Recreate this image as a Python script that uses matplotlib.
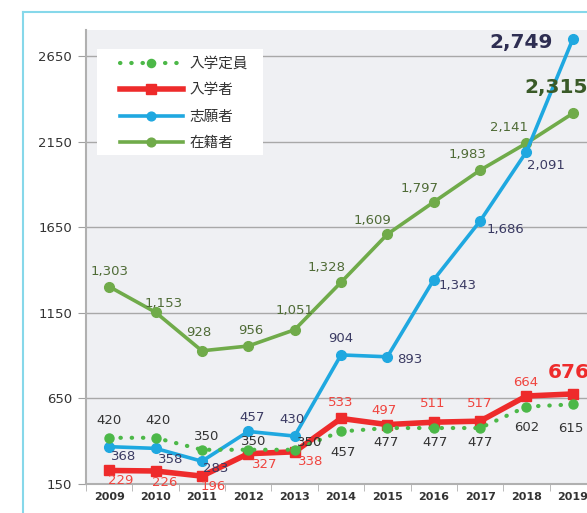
import numpy as np
import matplotlib.pyplot as plt
from matplotlib.lines import Line2D
from matplotlib.patches import Rectangle

plt.rcParams['font.family'] = ['DejaVu Sans', 'Noto Sans CJK JP']

years = ['2009', '2010', '2011', '2012', '2013', '2014', '2015', '2016', '2017', '2018', '2019']
teiin = [420, 420, 350, 350, 350, 457, 477, 477, 477, 602, 615]      # 入学定員
nyugaku = [229, 226, 196, 327, 338, 533, 497, 511, 517, 664, 676]    # 入学者
shigan = [368, 358, 283, 457, 430, 904, 893, 1343, 1686, 2091, 2749]  # 志願者
zaiseki = [1303, 1153, 928, 956, 1051, 1328, 1609, 1797, 1983, 2141, 2315]  # 在籍者
yticks = [150, 650, 1150, 1650, 2150, 2650]

# label offsets in pixels (dx, dy), dy positive = up
off_teiin = [(0, 17), (2, 17), (5, 13), (5, 8), (15, 7), (2, -21), (-1, -14), (1, -14), (0, -14), (0, -21), (-2, -24)]
off_nyu = [(12, -10), (9, -12), (11, -10), (16, -11), (16, -10), (0, 16), (-3, 14), (-1, 19), (0, 18), (-1, 14), (-4, 21)]
off_shi = [(14, -10), (15, -11), (14, -7), (4, 14), (-3, 17), (0, 16), (22, -3), (24, -6), (25, -8), (19, -14), (-52, -3)]
off_zai = [(0, 15), (8, 9), (-3, 18), (2, 16), (0, 19), (-14, 15), (-15, 14), (-14, 14), (-13, 16), (-17, 16), (-17, 26)]

c_teiin = '#4cb848'
c_nyu = '#ee2b2b'
c_shi = '#1fa8e0'
c_zai = '#70ab4a'

W, H = 587, 513
fig = plt.figure(figsize=(W / 100, H / 100), dpi=100)
fig.patch.set_facecolor('white')

# light blue frame (only left/top visible)
fig.add_artist(Line2D([23 / W, 23 / W], [0, 1 - 12 / H], color='#86d8ea', lw=1.5))
fig.add_artist(Line2D([23 / W, 1], [1 - 12 / H, 1 - 12 / H], color='#86d8ea', lw=1.5))

ax = fig.add_axes([86 / W, 29 / H, 510 / W, 454 / H])
ax.set_facecolor('#eff0f3')
x = np.arange(len(years))

ax.plot(x, zaiseki, color=c_zai, lw=2.6, marker='o', ms=7, zorder=3, label='在籍者')
ax.plot(x, shigan, color=c_shi, lw=2.6, marker='o', ms=7, zorder=4, label='志願者')
ax.plot(x, nyugaku, color=c_nyu, lw=4, marker='s', ms=7.5, zorder=5, label='入学者')
ax.plot(x, teiin, color=c_teiin, lw=3, ls=(0, (0.1, 2.6)), dash_capstyle='round',
        marker='o', ms=6.5, zorder=6, label='入学定員')

def put_labels(vals, offs, color, big=None):
    for i, (v, (dx, dy)) in enumerate(zip(vals, offs)):
        kw = dict(fontsize=9.5, color=color)
        if big is not None and i == len(vals) - 1:
            kw = dict(fontsize=14.5, color=big, fontweight='bold')
        ax.annotate(f'{v:,}', (x[i], v), xytext=(dx, dy), textcoords='offset pixels',
                    ha='center', va='center', zorder=10, annotation_clip=False, **kw)

put_labels(zaiseki, off_zai, '#4f6b36', big='#3a5a28')
put_labels(shigan, off_shi, '#3b3b63', big='#2e2e52')
put_labels(nyugaku, off_nyu, '#f0453f', big='#ee2b2b')
put_labels(teiin, off_teiin, '#333333')

ax.set_xlim(-0.5, len(years) - 0.5)
ax.set_ylim(150, 2802)
ax.set_yticks(yticks)
ax.set_yticklabels([str(t) for t in yticks], fontsize=9.5, color='#333333')
ax.set_xticks(x)
ax.set_xticklabels(years, fontsize=8, color='#333333', fontweight='bold')
ax.set_xticks(np.arange(len(years) + 1) - 0.5, minor=True)
ax.tick_params(axis='x', which='major', length=0, pad=6)
ax.tick_params(axis='x', which='minor', length=5, color='#b0b0b0')
ax.tick_params(axis='y', length=6, color='#a0a0a0', pad=4)
ax.grid(axis='y', color='#a8a8a8', lw=1)
ax.set_axisbelow(True)
for s in ['top', 'right']:
    ax.spines[s].set_visible(False)
ax.spines['left'].set_color('#b0b0b0')
ax.spines['bottom'].set_color('#b0b0b0')
ax.spines['left'].set_linewidth(1.5)
ax.spines['bottom'].set_linewidth(1.5)

# legend: white box behind a frameless legend
fig.add_artist(Rectangle((97 / W, 1 - 155 / H), 166 / W, 106 / H, transform=fig.transFigure,
                         facecolor='white', edgecolor='none', zorder=19))
h, l = ax.get_legend_handles_labels()
order = [3, 2, 1, 0]
leg = fig.legend([h[i] for i in order], [l[i] for i in order], loc='upper left',
                 bbox_to_anchor=(120 / W, 1 - 56 / H), bbox_transform=fig.transFigure,
                 frameon=False, fontsize=10.5, handlelength=4.3, borderpad=0,
                 labelspacing=0.78, handletextpad=0.45, borderaxespad=0,
                 markerscale=0.9)
for t in leg.get_texts():
    t.set_color('#333333')
leg.set_zorder(20)

fig.savefig('out.png', dpi=100)
